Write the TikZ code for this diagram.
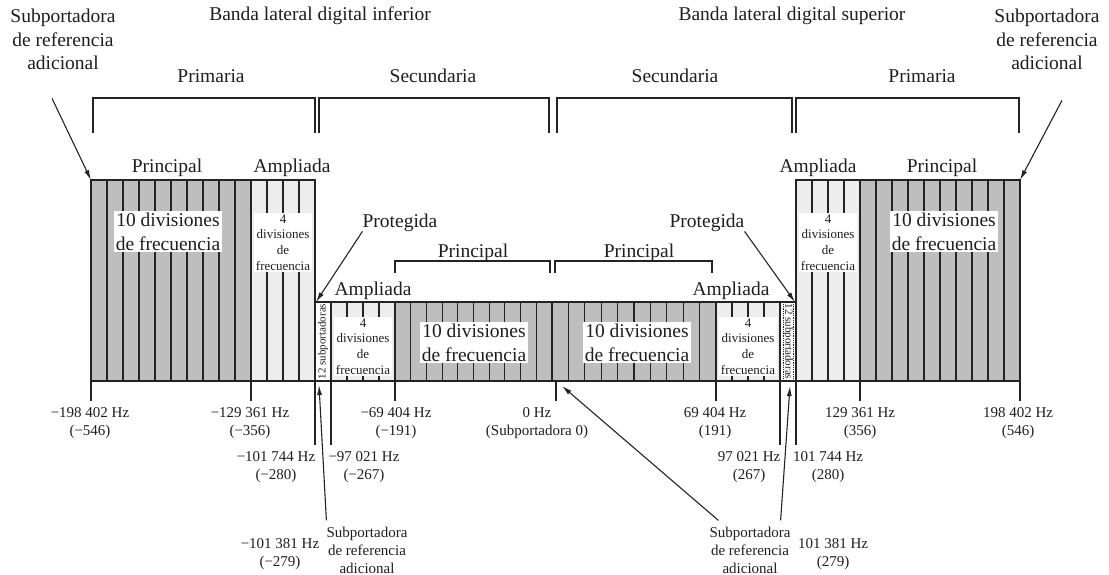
\documentclass[tikz,border=0pt]{standalone}
\usepackage{fontspec}
\setmainfont{Liberation Serif}
\usetikzlibrary{arrows.meta,positioning}
\definecolor{grisP}{RGB}{190,190,190}
\definecolor{grisA}{RGB}{237,237,237}
\definecolor{trazo}{RGB}{35,35,35}
\definecolor{tinta}{RGB}{30,30,30}

\tikzset{
  big/.style={font=\fontsize{19.5}{23.5}\selectfont, text=tinta, align=center, inner sep=0pt, anchor=base},
  hz/.style={font=\fontsize{15}{18}\selectfont, text=tinta, align=center, inner sep=0pt, anchor=base},
  tenlbl/.style={big, fill=white, inner sep=2pt},
  fourlbl/.style={font=\fontsize{13}{15.6}\selectfont, text=tinta, align=center, fill=white, inner sep=1.5pt, anchor=base},
  sublbl/.style={font=\fontsize{11}{12}\selectfont, text=tinta, inner sep=0pt},
  divline/.style={draw=trazo, line width=1.1pt},
  blockedge/.style={draw=trazo, line width=1.8pt},
  bracket/.style={draw=trazo, line width=1.1pt},
  ptr/.style={draw=trazo, line width=1.1pt, -{Latex[length=10pt,width=5pt]}}
}

\begin{document}
\begin{tikzpicture}[x=1pt,y=-1pt]
\useasboundingbox (0,0) rectangle (1109,575);

% Top headings (base = last line)
\node[big] (reftl) at (63,70) {Subportadora\\de referencia\\adicional};
\node[big] (reftr) at (1047,70) {Subportadora\\de referencia\\adicional};
\node[big] (bandinf) at (320,21) {Banda lateral digital inferior};
\node[big] (bandsup) at (792,21) {Banda lateral digital superior};
\node[big] (primL) at (211,83) {Primaria};
\node[big] (secL) at (433,83) {Secundaria};
\node[big] (secR) at (675,83) {Secundaria};
\node[big] (primR) at (922,83) {Primaria};

% Brackets
\draw[bracket] (93,133) -- (93,98) -- (315,98) -- (315,133);
\draw[bracket] (319,133) -- (319,98) -- (549,98) -- (549,133);
\draw[bracket] (557,133) -- (557,98) -- (792,98) -- (792,133);
\draw[bracket] (796,133) -- (796,98) -- (1019,98) -- (1019,133);
\draw[bracket] (395,273) -- (395,261) -- (550,261) -- (550,273);
\draw[bracket] (555,273) -- (555,261) -- (712,261) -- (712,273);

% Primary blocks
\fill[grisP] (91,180) rectangle (251,381);
\fill[grisA] (251,180) rectangle (315,381);
\fill[grisA] (796,180) rectangle (860,381);
\fill[grisP] (860,180) rectangle (1020,381);
\foreach \x in {107,123,...,235,267,283,299,812,828,844,876,892,...,1004}
  \draw[divline] (\x,180) -- (\x,381);

% Secondary blocks
\fill[white] (315,302) rectangle (331,381);
\fill[grisA] (331,302) rectangle (395,381);
\fill[grisP] (395,302) rectangle (716,381);
\fill[grisA] (716,302) rectangle (780,381);
\fill[white] (780,302) rectangle (796,381);
\foreach \x in {347,363,379,732,748,764}
  \draw[divline] (\x,302) -- (\x,381);
\foreach \k in {1,...,9}
  \draw[divline] ({395+15.7*\k},302) -- ++(0,79);
\foreach \k in {1,...,9}
  \draw[divline] ({552+16.4*\k},302) -- ++(0,79);
\draw[trazo, densely dotted, line width=0.8pt] (783,304) -- (783,379) (793,304) -- (793,379);

% Block labels
\node[big] (prinL) at (167,173) {Principal};
\node[big] (amplL) at (292,173) {Ampliada};
\node[big] (amplR) at (818,173) {Ampliada};
\node[big] (prinR) at (942,173) {Principal};
\node[tenlbl] (tenL) at (168,250) {10 divisiones\\de frecuencia};
\node[tenlbl] (tenR) at (944,250) {10 divisiones\\de frecuencia};
\node[fourlbl] (fourL) at (283,270) {4\\divisiones\\de\\frecuencia};
\node[fourlbl] (fourR) at (828,270) {4\\divisiones\\de\\frecuencia};
\node[big] (prinsL) at (473,257) {Principal};
\node[big] (prinsR) at (639,257) {Principal};
\node[big] (protL) at (400,227) {Protegida};
\node[big] (protR) at (707,227) {Protegida};
\node[big] (amplsL) at (373,295) {Ampliada};
\node[big] (amplsR) at (731,295) {Ampliada};
\node[tenlbl] (tensL) at (474,361) {10 divisiones\\de frecuencia};
\node[tenlbl] (tensR) at (637,361) {10 divisiones\\de frecuencia};
\node[fourlbl] (foursL) at (363,374) {4\\divisiones\\de\\frecuencia};
\node[fourlbl] (foursR) at (748,374) {4\\divisiones\\de\\frecuencia};
\node[sublbl, rotate=90] (subL) at (323,341.5) {12 subportadoras};
\node[sublbl, rotate=-90] (subR) at (788,341.5) {12 subportadoras};

% Outlines, axis and ticks
\draw[blockedge] (91,180) rectangle (315,381) (251,180) -- (251,381);
\draw[blockedge] (796,180) rectangle (1020,381) (860,180) -- (860,381);
\draw[blockedge] (315,302) -- (796,302);
\foreach \x in {331,395,552,716,780}
  \draw[blockedge] (\x,302) -- (\x,381);
\draw[blockedge] (91,381) -- (1020,381);
\foreach \x in {91,251,395,556,716,860,1020}
  \draw[blockedge] (\x,381) -- (\x,401);
\foreach \x in {315,331,780,796}
  \draw[blockedge] (\x,381) -- (\x,445);

% Frequency labels (base = last line)
\node[hz] (fA) at (90,435) {−198 402 Hz\\(−546)};
\node[hz] (fB) at (250,435) {−129 361 Hz\\(−356)};
\node[hz] (fC) at (396,435) {−69 404 Hz\\(−191)};
\node[hz] (fD) at (537,435) {0 Hz\\(Subportadora 0)};
\node[hz] (fE) at (715,435) {69 404 Hz\\(191)};
\node[hz] (fF) at (860,435) {129 361 Hz\\(356)};
\node[hz] (fG) at (1018,435) {198 402 Hz\\(546)};
\node[hz] (fH) at (276,479) {−101 744 Hz\\(−280)};
\node[hz] (fI) at (364,479) {−97 021 Hz\\(−267)};
\node[hz] (fJ) at (749,479) {97 021 Hz\\(267)};
\node[hz] (fK) at (828,479) {101 744 Hz\\(280)};
\node[hz] (fL) at (280,566) {−101 381 Hz\\(−279)};
\node[hz] (fM) at (833,566) {101 381 Hz\\(279)};
\node[hz] (refbl) at (367,573) {Subportadora\\de referencia\\adicional};
\node[hz] (refbr) at (750,573) {Subportadora\\de referencia\\adicional};

% Pointers
\coordinate (cornerL) at (91,180);
\coordinate (cornerR) at (1020,180);
\coordinate (protcL) at (316,302);
\coordinate (protcR) at (795,302);
\coordinate (axisL) at (319,385);
\coordinate (axisC) at (562,386);
\coordinate (axisR) at (790,386);
\draw[ptr] ([xshift=-11pt,yshift=-28pt]reftl.south) -- (cornerL);
\draw[ptr] ([xshift=15pt,yshift=-30pt]reftr.south) -- (cornerR);
\draw[ptr] (protL.south west) -- (protcL);
\draw[ptr] (protR.south east) -- (protcR);
\draw[ptr] ([yshift=6pt]refbl.north west) -- (axisL);
\draw[ptr] ([xshift=9pt,yshift=6pt]refbr.north west) -- (axisC);
\draw[ptr] ([xshift=-10pt,yshift=6pt]refbr.north east) -- (axisR);
\end{tikzpicture}
\end{document}
